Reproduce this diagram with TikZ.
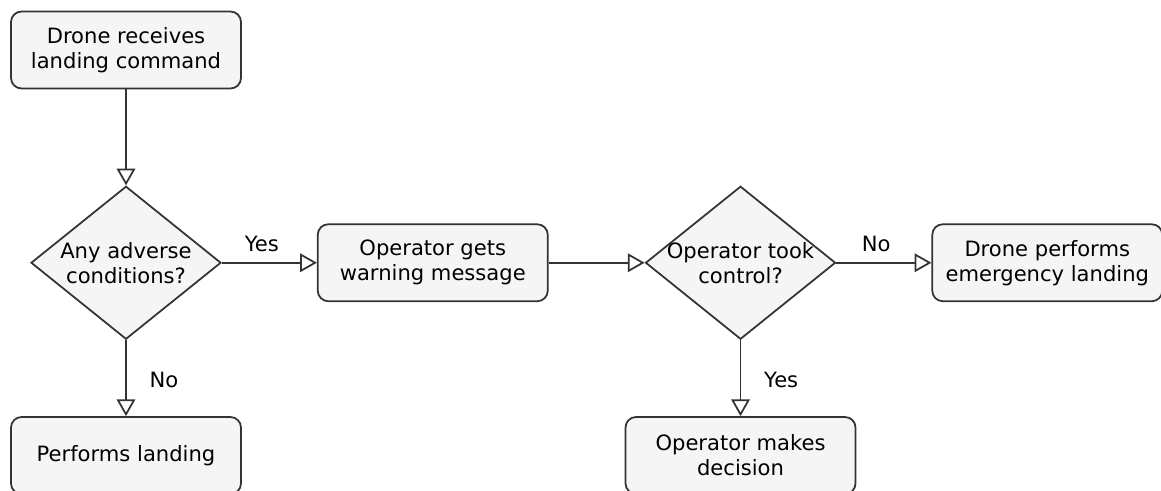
\documentclass[tikz,border=0pt]{standalone}
\usepackage{fontspec}
\setmainfont{DejaVu Sans}
\usetikzlibrary{shapes.geometric,arrows.meta,positioning}
\definecolor{BoxFill}{RGB}{245,245,245}
\definecolor{LineGray}{RGB}{51,51,51}
\tikzset{
  gbox/.style={draw=LineGray,fill=BoxFill,rounded corners=6pt,
               minimum width=4.6cm,minimum height=1.54cm,
               font=\fontsize{12}{14.2}\selectfont,align=center,line width=1pt},
  dbox/.style={draw=LineGray,fill=BoxFill,diamond,
               minimum width=3.8cm,minimum height=3.06cm,inner sep=0pt,
               line width=1pt},
  dtxt/.style={font=\fontsize{12}{14.2}\selectfont,align=center},
  arr/.style={-{Triangle[open,length=9.5pt,width=10.5pt]},LineGray,line width=1pt},
  lbl/.style={font=\fontsize{12}{14.2}\selectfont,text=black,inner sep=1pt},
}
\begin{document}
\begin{tikzpicture}
        \clip (0,0) rectangle (23.22,-9.82);
        \node[gbox] (recv) at (2.52,-1.0) {Drone receives\\landing command};
        \node[dbox,below=1.92cm of recv,
              label={[dtxt]center:Any adverse\\conditions?}] (adverse) {};
        \node[gbox,right=1.9cm of adverse] (warn) {Operator gets\\warning message};
        \node[dbox,right=1.92cm of warn,
              label={[dtxt]center:Operator took\\control?}] (took) {};
        \node[gbox,right=1.9cm of took] (emerg) {Drone performs\\emergency landing};
        \node[gbox,below=1.52cm of adverse] (land) {Performs landing};
        \node[gbox,below=1.52cm of took] (decide) {Operator makes\\decision};
        \draw[arr] (recv)--(adverse);
        \draw[arr] (adverse)--node[lbl,above=5pt,pos=0.42]{Yes}(warn);
        \draw[arr] (adverse)--node[lbl,right=0.42cm,pos=0.53]{No}(land);
        \draw[arr] (warn)--(took);
        \draw[arr] (took)--node[lbl,above=5pt,pos=0.42]{No}(emerg);
        \draw[arr] (took)--node[lbl,right=0.42cm,pos=0.53]{Yes}(decide);
      \end{tikzpicture}
\end{document}
